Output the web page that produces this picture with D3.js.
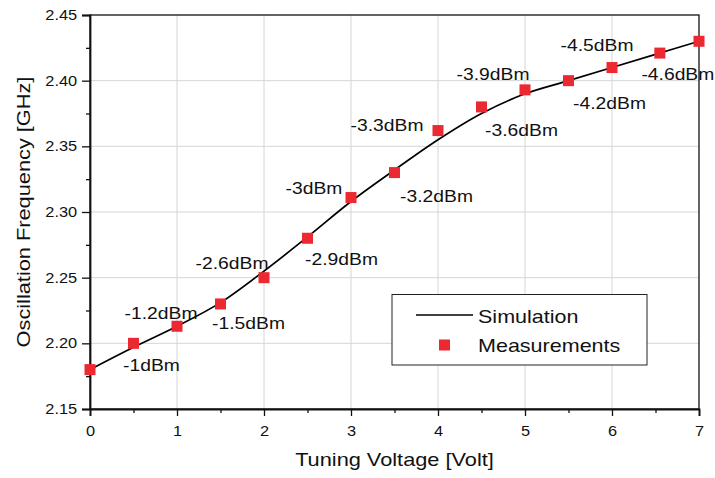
<!DOCTYPE html>
<html>
<head>
<meta charset="utf-8">
<script src="https://cdn.jsdelivr.net/npm/d3@7"></script>
<style>
  body { margin: 0; background: #fff; }
  svg { display: block; font-family: "Liberation Sans", Arial, sans-serif; }
</style>
</head>
<body>
<script>
// tuning voltage [V] and frequency [GHz]
var simVolt = [0, 0.5, 1, 1.5, 2, 2.5, 3, 3.5, 4, 4.5, 5, 5.5, 6, 6.5, 7];
var simFreq = [2.180, 2.197, 2.213, 2.231, 2.255, 2.281, 2.308, 2.332, 2.355, 2.375, 2.390, 2.400, 2.410, 2.420, 2.430];

var measVolt = [0, 0.5, 1, 1.5, 2, 2.5, 3, 3.5, 4, 4.5, 5, 5.5, 6, 6.55, 7];
var measFreq = [2.180, 2.200, 2.213, 2.230, 2.250, 2.280, 2.311, 2.330, 2.362, 2.380, 2.393, 2.400, 2.410, 2.421, 2.430];
// output power label per measured point (dBm)
var measPower = [null, -1, -1.2, -1.5, -2.6, -2.9, -3, -3.2, -3.3, -3.6, -3.9, -4.2, -4.5, -4.6, null];

var xTicks = [0, 1, 2, 3, 4, 5, 6, 7];
var xMinor = [0.5, 1.5, 2.5, 3.5, 4.5, 5.5, 6.5];
var yTicks = [2.15, 2.20, 2.25, 2.30, 2.35, 2.40, 2.45];
var yMinor = [2.175, 2.225, 2.275, 2.325, 2.375, 2.425];

// label offsets from each point (layout only)
var labelOffset = [null, [18, 28], [-16, -7], [28, 25], [-32, -9], [34, 27], [-37, -4], [42, 29],
                   [-51, 0], [40, 29], [-32, -10], [41, 28], [-15, -17], [18, 27], null];

var w = 715, h = 478;
var pL = 90, pR = 699, pT = 15, pB = 409;
var stretch = 1.17;

var xScale = d3.scaleLinear().domain([0, 7]).range([pL, pR]);
var yScale = d3.scaleLinear().domain([2.15, 2.45]).range([pB, pT]);

var svg = d3.select('body').append('svg')
  .attr('width', w)
  .attr('height', h);

// grid
svg.append('g').selectAll('line')
  .data(xTicks.slice(1, -1))
  .enter().append('line')
  .attr('x1', function(d){ return xScale(d); })
  .attr('x2', function(d){ return xScale(d); })
  .attr('y1', pT).attr('y2', pB)
  .attr('stroke', '#d6d6d6').attr('stroke-width', 1);

svg.append('g').selectAll('line')
  .data(yTicks.slice(1, -1))
  .enter().append('line')
  .attr('y1', function(d){ return yScale(d); })
  .attr('y2', function(d){ return yScale(d); })
  .attr('x1', pL).attr('x2', pR)
  .attr('stroke', '#d6d6d6').attr('stroke-width', 1);

// frame
svg.append('rect')
  .attr('x', pL).attr('y', pT)
  .attr('width', pR - pL).attr('height', pB - pT)
  .attr('fill', 'none').attr('stroke', '#111').attr('stroke-width', 1.3);

// axes
svg.append('g')
  .attr('transform', 'translate(0,' + pB + ')')
  .call(d3.axisBottom(xScale).tickValues(xTicks).tickSize(7).tickPadding(10).tickFormat(d3.format('d')));
svg.append('g')
  .attr('transform', 'translate(0,' + pB + ')')
  .call(d3.axisBottom(xScale).tickValues(xMinor).tickSize(4).tickFormat(''))
  .call(function(g){ g.select('.domain').remove(); });

svg.append('g')
  .attr('transform', 'translate(' + pL + ',0)')
  .call(d3.axisLeft(yScale).tickValues(yTicks).tickSize(8).tickPadding(3).tickFormat(d3.format('.2f')));
svg.append('g')
  .attr('transform', 'translate(' + pL + ',0)')
  .call(d3.axisLeft(yScale).tickValues(yMinor).tickSize(4).tickFormat(''))
  .call(function(g){ g.select('.domain').remove(); });

svg.selectAll('.domain').attr('stroke', '#111').attr('stroke-width', 1.8);
svg.selectAll('.tick line').attr('stroke', '#111').attr('stroke-width', 1.3);
svg.selectAll('.tick text')
  .attr('font-size', '14px')
  .attr('font-family', '"Liberation Sans", Arial, sans-serif')
  .attr('fill', '#111')
  .attr('transform', 'scale(' + stretch + ',1)');

// simulation curve
var simData = simVolt.map(function(v, i){ return {x: v, y: simFreq[i]}; });
var line = d3.line()
  .x(function(d){ return xScale(d.x); })
  .y(function(d){ return yScale(d.y); })
  .curve(d3.curveCatmullRom.alpha(0.5));

svg.append('path')
  .datum(simData)
  .attr('d', line)
  .attr('fill', 'none')
  .attr('stroke', '#000')
  .attr('stroke-width', 1.7);

// measurements
var measData = measVolt.map(function(v, i){
  return {x: v, y: measFreq[i], p: measPower[i], off: labelOffset[i]};
});
var sq = 11;
svg.append('g').selectAll('rect')
  .data(measData)
  .enter().append('rect')
  .attr('x', function(d){ return xScale(d.x) - sq / 2; })
  .attr('y', function(d){ return yScale(d.y) - sq / 2; })
  .attr('width', sq).attr('height', sq)
  .attr('fill', '#ec2830');

svg.append('g').selectAll('text')
  .data(measData.filter(function(d){ return d.p !== null; }))
  .enter().append('text')
  .attr('transform', function(d){
    return 'translate(' + (xScale(d.x) + d.off[0]) + ',' + (yScale(d.y) + d.off[1]) + ') scale(' + stretch + ',1)';
  })
  .attr('text-anchor', 'middle')
  .attr('font-size', '16.5px')
  .attr('fill', '#111')
  .text(function(d){ return d.p + 'dBm'; });

// axis titles
svg.append('text')
  .attr('transform', 'translate(' + ((pL + pR) / 2) + ',466) scale(' + stretch + ',1)')
  .attr('text-anchor', 'middle')
  .attr('font-size', '18.6px')
  .attr('fill', '#111')
  .text('Tuning Voltage [Volt]');

svg.append('text')
  .attr('transform', 'translate(30,' + ((pT + pB) / 2) + ') rotate(-90) scale(' + stretch + ',1)')
  .attr('text-anchor', 'middle')
  .attr('font-size', '18.6px')
  .attr('fill', '#111')
  .text('Oscillation Frequency [GHz]');

// legend
var legend = svg.append('g');
legend.append('rect')
  .attr('x', 392).attr('y', 294.5)
  .attr('width', 255).attr('height', 70.5)
  .attr('fill', '#fff').attr('stroke', '#222').attr('stroke-width', 1);
legend.append('line')
  .attr('x1', 416).attr('x2', 473)
  .attr('y1', 315).attr('y2', 315)
  .attr('stroke', '#000').attr('stroke-width', 1.7);
legend.append('rect')
  .attr('x', 444.5 - sq / 2).attr('y', 345 - sq / 2)
  .attr('width', sq).attr('height', sq)
  .attr('fill', '#ec2830');
legend.selectAll('text')
  .data(['Simulation', 'Measurements'])
  .enter().append('text')
  .attr('transform', function(d, i){ return 'translate(478,' + (322.5 + i * 29.5) + ') scale(' + stretch + ',1)'; })
  .attr('font-size', '18.4px')
  .attr('fill', '#111')
  .text(function(d){ return d; });
</script>
</body>
</html>
